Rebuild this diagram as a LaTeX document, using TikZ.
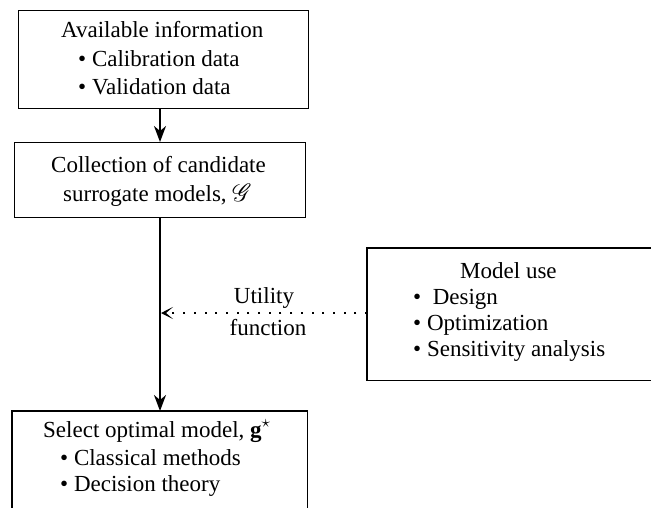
\documentclass[tikz,border=0pt]{standalone}
\usepackage{fontspec}
\setmainfont{Liberation Serif}
\usepackage{mathrsfs}
\usetikzlibrary{arrows.meta}
\begin{document}
\begin{tikzpicture}[x=1pt,y=-1pt,
  box/.style={draw, line width=1.3pt, inner sep=0pt, anchor=north west},
  openbox/.style={inner sep=0pt, anchor=north west},
  edge/.style={line width=1.3pt},
  txt/.style={inner sep=0pt, anchor=base west, font=\fontsize{23}{27}\selectfont},
  flow/.style={line width=1.9pt, -{Stealth[length=16pt,width=12pt,inset=5pt]}},
  util/.style={line width=2pt, dash pattern=on 2pt off 8.7pt, -{Stealth[length=12pt,width=12pt,inset=7pt]}}]
\useasboundingbox (0,0) rectangle (651,508);
% boxes
\node[box, minimum width=290pt, minimum height=98pt] (box1) at (18,10) {};
\node[box, minimum width=291pt, minimum height=75pt] (box2) at (14,142) {};
\node[openbox, minimum width=295pt, minimum height=100pt] (box3) at (12,411) {};
\node[openbox, minimum width=290pt, minimum height=132pt] (box4) at (367,248) {};
\draw[edge] (box3.south west) -- (box3.north west) -- (box3.north east) -- (box3.south east);
\draw[edge] (box4.north east) -- (box4.north west) -- (box4.south west) -- (box4.south east);
% texts
\node[txt] (t1a) at (61,38) {Available information};
\node[txt] (t1b) at (78,67) {\textbullet\ Calibration data};
\node[txt] (t1c) at (78,95) {\textbullet\ Validation data};
\node[txt] (t2a) at (51,173) {Collection of candidate};
\node[txt] (t2b) at (63,201) {surrogate models, $\mathscr{G}$};
\node[txt] (t3a) at (43,437) {Select optimal model, \textbf{g}$^\star$};
\node[txt] (t3b) at (60,465) {\textbullet\ Classical methods};
\node[txt] (t3c) at (60,491) {\textbullet\ Decision theory};
\node[txt] (t4a) at (460,278) {Model use};
\node[txt] (t4b) at (413,304) {\textbullet\ \ Design};
\node[txt] (t4c) at (413,330) {\textbullet\ Optimization};
\node[txt] (t4d) at (413,356) {\textbullet\ Sensitivity analysis};
\node[txt, anchor=base] (u1) at (264,303) {Utility};
\node[txt, anchor=base] (u2) at (268,335) {function};
% connectors
\coordinate (axis) at (160,0);
\coordinate (meet) at (161,313);
\draw[flow] (box1.south -| axis) -- (box2.north -| axis);
\draw[flow] (box2.south -| axis) -- (box3.north -| axis);
\draw[util] (box4.west |- meet) -- (meet);
\end{tikzpicture}
\end{document}
